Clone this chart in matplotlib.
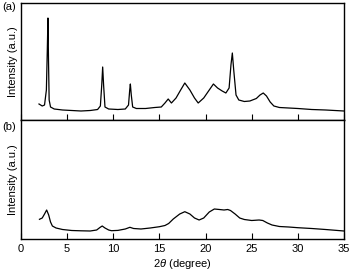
import numpy as np
import matplotlib
matplotlib.use('Agg')
import matplotlib.pyplot as plt

plt.rcParams['font.family'] = ['Liberation Sans', 'DejaVu Sans']
plt.rcParams['mathtext.fontset'] = 'custom'
plt.rcParams['mathtext.it'] = 'Liberation Sans:italic'
plt.rcParams['mathtext.rm'] = 'Liberation Sans'

# Panel (a) pattern: 2theta (degree) vs intensity (a.u.)
a_x = [1.95, 2.3, 2.55, 2.75, 2.85, 2.92, 2.98, 3.05, 3.2, 3.6, 4.5, 5.5, 6.5, 7.5,
       8.3, 8.6, 8.75, 8.85, 8.95, 9.1, 9.5, 10.5, 11.3, 11.65, 11.78, 11.85, 11.95,
       12.1, 12.5, 13.5, 14.5, 15.2, 15.6, 15.95, 16.3, 16.8, 17.3, 17.75, 18.3, 18.8,
       19.2, 19.8, 20.4, 20.85, 21.3, 21.8, 22.2, 22.55, 22.75, 22.9, 23.05, 23.3, 23.6,
       24.2, 24.8, 25.5, 25.9, 26.25, 26.6, 27.0, 27.4, 28.0, 29.0, 30.0, 31.5, 33.0, 35.0]
a_y = [16, 14, 15, 30, 70, 102, 60, 20, 13, 11, 10, 9.5, 9, 9.5,
       10.5, 14, 35, 53, 35, 13, 11, 10.5, 11, 15, 30, 36, 25,
       13, 11.5, 11.5, 12.5, 13, 17, 21, 17, 22, 30, 37, 30, 22,
       17, 22, 30, 36, 32, 29, 27, 32, 55, 67, 50, 25, 20,
       18.5, 19, 21.5, 25, 27, 24, 18, 14, 12.5, 12, 11.5, 10.5, 10, 9]

# Panel (b) pattern
b_x = [2.0, 2.3, 2.55, 2.78, 3.0, 3.2, 3.4, 3.8, 4.5, 5.5, 6.5, 7.5, 8.2, 8.55, 8.8,
       9.1, 9.5, 9.8, 10.5, 11.3, 11.8, 12.2, 13.0, 14.0, 15.0, 15.6, 16.0, 16.5, 17.2,
       17.75, 18.3, 18.8, 19.3, 19.8, 20.4, 20.95, 21.5, 22.0, 22.4, 22.7, 23.2, 23.7,
       24.2, 25.0, 25.8, 26.2, 26.7, 27.2, 28.0, 29.0, 30.0, 31.5, 33.0, 35.0]
b_y = [19.7, 21, 25, 29, 24, 17, 13, 11, 9.5, 8.5, 8.2, 8, 9, 11.5, 13,
       11, 9, 8.3, 8.6, 10, 11.7, 10.5, 10, 11, 12.3, 13.5, 15.5, 20, 25,
       27.3, 25, 21, 19, 21, 27, 30, 29.5, 29, 29.5, 28.5, 25, 21,
       19.5, 18.5, 19, 18.5, 16, 14, 12.5, 12, 11.3, 10.5, 9.5, 8]

x_ticks = [0, 5, 10, 15, 20, 25, 30, 35]

fig = plt.figure(figsize=(3.52, 2.71), dpi=100)
ax_a = fig.add_axes([21/352, 1-120/271, 323/352, 117/271])
ax_b = fig.add_axes([21/352, 1-239/271, 323/352, 119/271])

for ax, xs, ys, top in [(ax_a, a_x, a_y, 117), (ax_b, b_x, b_y, 119)]:
    ax.plot(xs, ys, color='black', lw=0.9)
    ax.set_xlim(0, 35)
    ax.set_ylim(0, top)
    ax.set_yticks([])
    ax.set_xticks(x_ticks)
    ax.tick_params(axis='x', direction='in', length=4, width=0.8, labelsize=8, pad=3.5)
    ax.set_ylabel('Intensity (a.u.)', fontsize=8, labelpad=2.5)
    for s in ax.spines.values():
        s.set_linewidth(1.0)

ax_a.tick_params(axis='x', labelbottom=False)
ax_b.set_xlabel(r'$2\mathit{\theta}$ (degree)', fontsize=8, labelpad=2)

fig.text(2/352, 1-7/271, '(a)', fontsize=8, ha='left', va='center')
fig.text(2/352, 1-127/271, '(b)', fontsize=8, ha='left', va='center')

fig.savefig('out.png', dpi=100)
